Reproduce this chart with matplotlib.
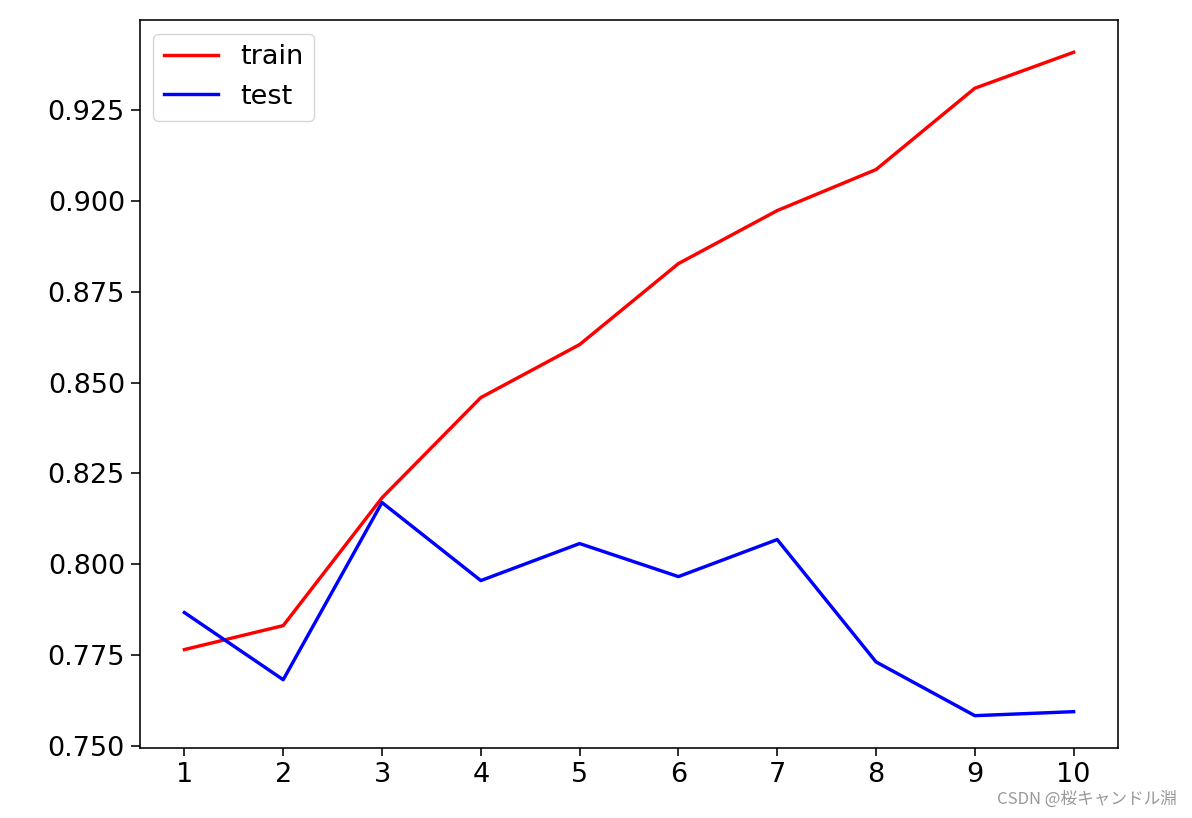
import matplotlib
matplotlib.use("Agg")
import matplotlib.pyplot as plt

# depth values and the accuracy
depth = [1, 2, 3, 4, 5, 6, 7, 8, 9, 10]
train_acc = [0.7765, 0.7831, 0.8183, 0.8459, 0.8605, 0.8828, 0.8974, 0.9087, 0.9311, 0.9410]
test_acc = [0.7867, 0.7682, 0.8170, 0.7955, 0.8057, 0.7966, 0.8068, 0.7731, 0.7583, 0.7594]

px = 72 / 100  # points per pixel at dpi 100
plt.rcParams['font.size'] = 19.5
plt.rcParams['axes.linewidth'] = 1.6 * px
plt.rcParams['xtick.major.width'] = 1.6 * px
plt.rcParams['ytick.major.width'] = 1.6 * px
plt.rcParams['xtick.major.size'] = 8 * px
plt.rcParams['ytick.major.size'] = 9 * px
plt.rcParams['xtick.major.pad'] = 6 * px
plt.rcParams['ytick.major.pad'] = 6 * px

fig = plt.figure(figsize=(11.92, 8.18), dpi=100)
ax = fig.add_axes([0.1174, 0.0856, 0.8206, 0.89])

ax.plot(depth, train_acc, color='red', linewidth=3.4 * px, label='train')
ax.plot(depth, test_acc, color='blue', linewidth=3.4 * px, label='test')
ax.set_xticks(depth)
ax.set_ylim(0.7494, 0.9499)
ax.legend(loc='upper left')

fig.text(0.987, 0.013, 'CSDN @桜キャンドル淵', ha='right', va='bottom', fontsize=12,
         color='#999999', family=['Noto Sans CJK JP', 'DejaVu Sans'])

fig.savefig('out.png', dpi=100)
